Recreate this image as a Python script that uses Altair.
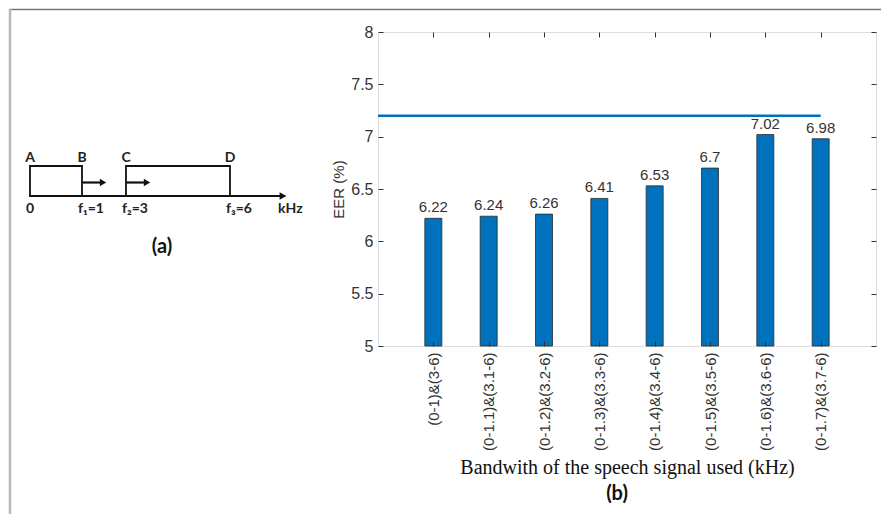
import altair as alt
import pandas as pd

# ---- (b) EER for each pair of retained sub-bands ----
bands = [
    "(0-1)&(3-6)", "(0-1.1)&(3.1-6)", "(0-1.2)&(3.2-6)", "(0-1.3)&(3.3-6)",
    "(0-1.4)&(3.4-6)", "(0-1.5)&(3.5-6)", "(0-1.6)&(3.6-6)", "(0-1.7)&(3.7-6)",
]
eer = [6.22, 6.24, 6.26, 6.41, 6.53, 6.7, 7.02, 6.98]
full_band_eer = 7.2
eer_ticks = [5, 5.5, 6, 6.5, 7, 7.5, 8]

# ---- (a) sketch of the two pass-bands on the frequency axis ----
edges_khz = [0, 1, 3, 6]
edge_labels = ["0", "f\u2081=1", "f\u2082=3", "f\u2083=6"]
corner_labels = ["A", "B", "C", "D"]
box_start = [0, 3]
box_end = [1, 6]
shift_from = [1, 3]

BLUE = "#0072BD"
INK = "#333333"
SANS = "Liberation Sans"
SKETCH_FONT = "Lato"

# ---------------- sketch (a) ----------------
# piecewise scale: the sketch is not drawn to scale in kHz
sx = alt.Scale(domain=[0, 1, 3, 6], range=[-348, -296, -252, -148], nice=False, zero=False)
sy = alt.Scale(domain=[0, 1], range=[164, 134], nice=False, zero=False)

edges_df = pd.DataFrame({"khz": edges_khz, "edge": edge_labels, "corner": corner_labels})
boxes_df = pd.DataFrame({"start": box_start, "end": box_end})
shift_df = pd.DataFrame({"khz": shift_from})
one = alt.Data(values=[{}])

boxes = alt.Chart(boxes_df).mark_rect(fill=None, stroke="#111", strokeWidth=1.8).encode(
    x=alt.X("start:Q", scale=sx, axis=None),
    x2="end:Q",
    y=alt.Y(datum=0, scale=sy, axis=None),
    y2=alt.datum(1),
)

freq_axis = alt.Chart(one).mark_rule(color="#111", strokeWidth=2, x2Offset=55).encode(
    x=alt.X(datum=0, scale=sx, axis=None),
    x2=alt.datum(6),
    y=alt.Y(datum=0, scale=sy, axis=None),
)
freq_head = alt.Chart(one).mark_point(
    shape="triangle-right", filled=True, color="#111", size=60, xOffset=53, opacity=1
).encode(
    x=alt.X(datum=6, scale=sx, axis=None),
    y=alt.Y(datum=0, scale=sy, axis=None),
)

shift_lines = alt.Chart(shift_df).mark_rule(color="#111", strokeWidth=2.2, x2Offset=21).encode(
    x=alt.X("khz:Q", scale=sx, axis=None),
    x2="khz:Q",
    y=alt.Y(datum=0.45, scale=sy, axis=None),
)
shift_heads = alt.Chart(shift_df).mark_point(
    shape="triangle-right", filled=True, color="#111", size=55, xOffset=21, opacity=1
).encode(
    x=alt.X("khz:Q", scale=sx, axis=None),
    y=alt.Y(datum=0.45, scale=sy, axis=None),
)

corners = alt.Chart(edges_df).mark_text(
    baseline="bottom", dy=-1, font=SKETCH_FONT, fontSize=14, fontWeight="bold", color="#222"
).encode(
    x=alt.X("khz:Q", scale=sx, axis=None),
    y=alt.Y(datum=1, scale=sy, axis=None),
    text="corner:N",
)
edge_text = alt.Chart(edges_df).mark_text(
    baseline="top", align="left", dx=-4, dy=6, font=SKETCH_FONT, fontSize=14,
    fontWeight="bold", color="#222"
).encode(
    x=alt.X("khz:Q", scale=sx, axis=None),
    y=alt.Y(datum=0, scale=sy, axis=None),
    text="edge:N",
)
unit_text = alt.Chart(one).mark_text(
    baseline="top", align="left", dx=48, dy=6, font=SKETCH_FONT, fontSize=14,
    fontWeight="bold", color="#222", text="kHz"
).encode(
    x=alt.X(datum=6, scale=sx, axis=None),
    y=alt.Y(datum=0, scale=sy, axis=None),
)
caption_a = alt.Chart(one).mark_text(
    baseline="middle", align="center", dx=36, dy=51, font=SKETCH_FONT, fontSize=20,
    fontWeight="bold", color="#111", text="(a)"
).encode(
    x=alt.X(datum=3, scale=sx, axis=None),
    y=alt.Y(datum=0, scale=sy, axis=None),
)

# outer figure frame (top and left edges)
frame_top = alt.Chart(one).mark_rule(color="#777777", strokeWidth=1.5).encode(
    x=alt.value(-369), x2=alt.value(503), y=alt.value(-22.5)
)
frame_left = alt.Chart(one).mark_rule(color="#b8b8b8", strokeWidth=2.5).encode(
    x=alt.value(-368), y=alt.value(-23), y2=alt.value(482)
)

sketch = alt.layer(
    frame_top, frame_left, boxes, freq_axis, freq_head, shift_lines, shift_heads,
    corners, edge_text, unit_text, caption_a,
)

# ---------------- bar chart (b) ----------------
bar_df = pd.DataFrame({"band": bands, "eer": eer})
ref_df = pd.DataFrame({"eer": [full_band_eer], "end": [bands[-1]]})

xs = alt.Scale(type="point", domain=bands, padding=1)
ys = alt.Scale(domain=[5, 8], zero=False, nice=False)

tick_style = dict(domain=False, tickSize=5, tickColor=INK, tickWidth=1, offset=-5, zindex=1)

bars = alt.Chart(bar_df).mark_bar(size=17, color=BLUE, stroke="#2a2a2a", strokeWidth=0.8).encode(
    x=alt.X(
        "band:N", scale=xs, sort=bands,
        axis=alt.Axis(
            orient="bottom", labelAngle=270, labelFont=SANS, labelFontSize=15,
            labelColor=INK, labelPadding=6,
            title="Bandwith of the speech signal used (kHz)", titleFont="Liberation Serif",
            titleFontSize=20, titleFontWeight="normal", titleColor="#111", titlePadding=7,
            **tick_style,
        ),
    ),
    y=alt.Y(
        "eer:Q", scale=ys,
        axis=alt.Axis(
            orient="left", values=eer_ticks, format="~g", labelFont=SANS, labelFontSize=16,
            labelColor=INK, labelPadding=5,
            title="EER (%)", titleFont=SANS, titleFontSize=15, titleFontWeight="normal",
            titleColor=INK, titlePadding=4,
            **tick_style,
        ),
    ),
    y2=alt.datum(5),
)

ref_line = alt.Chart(ref_df).mark_rule(color=BLUE, strokeWidth=2.5).encode(
    x=alt.X("end:N", scale=xs, axis=None),
    x2=alt.value(0),
    y=alt.Y("eer:Q", scale=ys, axis=None),
)

value_labels = alt.Chart(bar_df).mark_text(
    baseline="bottom", dy=-3, font=SANS, fontSize=15, color=INK
).encode(
    x=alt.X("band:N", scale=xs, sort=bands,
            axis=alt.Axis(orient="top", labels=False, title=None, **tick_style)),
    y=alt.Y("eer:Q", scale=ys,
            axis=alt.Axis(orient="right", labels=False, title=None, values=eer_ticks, **tick_style)),
    text=alt.Text("eer:Q", format="~g"),
)

panel_b = alt.layer(bars, ref_line, value_labels)

chart = (
    alt.layer(sketch, panel_b)
    .resolve_scale(x="independent", y="independent")
    .properties(
        width=498,
        height=314,
        padding={"left": 378, "top": 32, "right": 5, "bottom": 168},
        autosize=alt.AutoSizeParams(type="none"),
        title=alt.Title(
            "(b)", orient="bottom", font=SKETCH_FONT, fontSize=20, fontWeight="bold",
            color="#111", offset=-31, dx=-10,
        ),
    )
    .configure_view(stroke="#555555", strokeWidth=1)
    .configure(background="white")
)

chart.save("out.html", embed_options={"renderer": "svg", "actions": False})
